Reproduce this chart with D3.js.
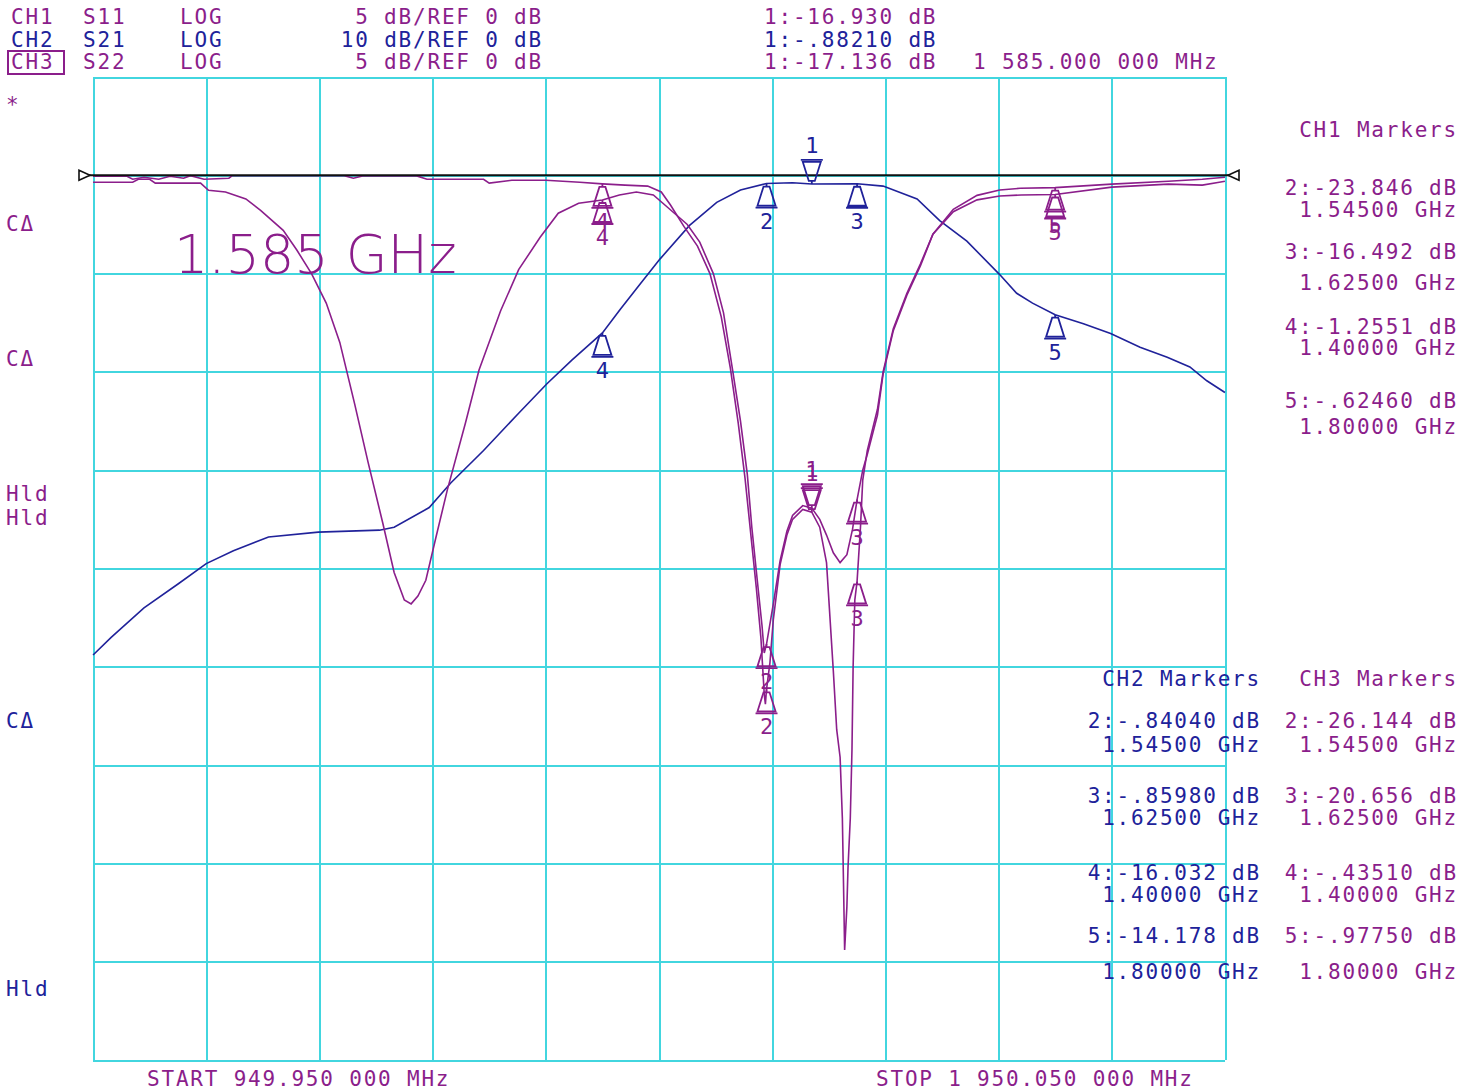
<!DOCTYPE html>
<html>
<head>
<meta charset="utf-8">
<script src="https://cdn.jsdelivr.net/npm/d3@7/dist/d3.min.js"></script>
<style>
body { margin: 0; background: #ffffff; }
text { font-family: 'DejaVu Sans Mono', monospace; }
</style>
</head>
<body>
<div id="chart"></div>
<script>
// sweep
var startMHz = 949.95;
var stopMHz = 1950.05;

// CH1 S11 (5 dB/div)
var ch1Freq = [950, 985, 990, 1000, 1005, 1045, 1052, 1067, 1085, 1098, 1118, 1130, 1143, 1156, 1168, 1181, 1193, 1206, 1216, 1225, 1231, 1237, 1244, 1253, 1263, 1279, 1291, 1310, 1326, 1345, 1361, 1379, 1400, 1415, 1430, 1445, 1457, 1475, 1486, 1498, 1507, 1515, 1522, 1528, 1532, 1537, 1541, 1543, 1545, 1551, 1557, 1563, 1568, 1577, 1585, 1592, 1598, 1604, 1610, 1616, 1621, 1625, 1630, 1634, 1643, 1648, 1657, 1669, 1681, 1692, 1710, 1731, 1751, 1769, 1800, 1850, 1900, 1930, 1950];
var ch1Db = [-0.35, -0.35, -0.2, -0.2, -0.4, -0.4, -0.76, -0.85, -1.2, -1.78, -2.8, -3.8, -5.0, -6.5, -8.5, -11.6, -14.6, -17.7, -20.2, -21.6, -21.8, -21.4, -20.6, -18.4, -16.0, -12.6, -9.9, -6.9, -4.8, -3.15, -1.93, -1.42, -1.2551, -1.0, -0.85, -1.0, -1.6, -2.5, -3.4, -5.0, -7.0, -9.9, -12.5, -15.2, -17.9, -20.7, -22.9, -24.3, -23.846, -21.8, -19.6, -18.1, -17.3, -16.8, -16.93, -17.5, -18.3, -19.2, -19.7, -19.3, -18.0, -16.492, -15.0, -14.2, -12.2, -10.1, -7.9, -6.1, -4.6, -3.0, -1.73, -1.02, -0.75, -0.66, -0.6246, -0.45, -0.3, -0.2, -0.1];

// CH2 S21 (10 dB/div)
var ch2Freq = [950, 966, 995, 1026, 1050, 1074, 1105, 1149, 1203, 1216, 1247, 1266, 1295, 1326, 1351, 1373, 1400, 1416, 1433, 1451, 1477, 1501, 1522, 1545, 1568, 1585, 1625, 1648, 1678, 1698, 1722, 1751, 1766, 1780, 1800, 1825, 1849, 1875, 1899, 1919, 1934, 1950];
var ch2Db = [-48.8, -47.0, -44.0, -41.5, -39.5, -38.2, -36.8, -36.3, -36.1, -35.8, -33.8, -31.3, -28.0, -24.2, -21.2, -18.8, -16.032, -13.6, -11.1, -8.5, -5.1, -2.75, -1.5, -0.8404, -0.76, -0.8821, -0.8598, -1.1, -2.4, -4.6, -6.7, -10.1, -12.0, -13.0, -14.178, -15.1, -16.1, -17.5, -18.5, -19.5, -20.9, -22.1];

// CH3 S22 (5 dB/div)
var ch3Freq = [950, 980, 985, 995, 1008, 1018, 1030, 1036, 1048, 1070, 1073, 1172, 1180, 1189, 1236, 1245, 1295, 1300, 1320, 1350, 1380, 1400, 1420, 1440, 1452, 1460, 1472, 1484, 1495, 1505, 1513, 1520, 1526, 1531, 1536, 1540, 1543, 1544, 1545, 1548, 1551, 1557, 1563, 1568, 1577, 1585, 1592, 1598, 1604, 1607, 1610, 1612, 1613, 1614, 1616, 1617, 1619, 1620.5, 1621.5, 1623, 1625, 1628, 1630, 1634, 1643, 1648, 1657, 1669, 1681, 1692, 1710, 1731, 1751, 1770, 1800, 1850, 1900, 1930, 1945, 1950];
var ch3Db = [-0.05, -0.05, -0.2, -0.1, -0.2, -0.05, -0.15, -0.02, -0.2, -0.15, -0.02, -0.02, -0.15, -0.02, -0.03, -0.2, -0.2, -0.4, -0.25, -0.25, -0.35, -0.4351, -0.5, -0.55, -0.85, -1.5, -2.6, -3.6, -5.0, -7.2, -9.8, -12.6, -15.4, -18.2, -21.0, -23.5, -26.4, -26.9, -26.144, -24.8, -22.6, -19.8, -18.3, -17.5, -17.0, -17.136, -17.9, -19.7, -25.2, -28.2, -29.6, -32.7, -36.0, -39.4, -37.2, -35.2, -32.7, -29.2, -25.0, -21.6, -20.656, -17.9, -15.5, -14.0, -11.9, -10.0, -7.8, -6.0, -4.5, -3.0, -1.85, -1.25, -1.05, -1.0, -0.9775, -0.6, -0.45, -0.5, -0.35, -0.3];

// markers
var markerFreq = [1585, 1545, 1625, 1400, 1800];
var markerNames = ['1', '2', '3', '4', '5'];
var ch1MarkerDb = [-16.930, -23.846, -16.492, -1.2551, -0.6246];
var ch2MarkerDb = [-0.8821, -0.8404, -0.8598, -16.032, -14.178];
var ch3MarkerDb = [-17.136, -26.144, -20.656, -0.4351, -0.9775];

// text
var headerChannels = ['CH1', 'CH2', 'CH3'];
var headerParams = ['S11', 'S21', 'S22'];
var headerFormats = ['LOG', 'LOG', 'LOG'];
var headerScales = ['5 dB/REF 0 dB', '10 dB/REF 0 dB', '5 dB/REF 0 dB'];
var headerMarker1 = ['1:-16.930 dB', '1:-.88210 dB', '1:-17.136 dB'];
var marker1Stimulus = '1 585.000 000 MHz';
var ch1MarkerValues = ['2:-23.846 dB', '3:-16.492 dB', '4:-1.2551 dB', '5:-.62460 dB'];
var ch2MarkerValues = ['2:-.84040 dB', '3:-.85980 dB', '4:-16.032 dB', '5:-14.178 dB'];
var ch3MarkerValues = ['2:-26.144 dB', '3:-20.656 dB', '4:-.43510 dB', '5:-.97750 dB'];
var markerStimuli = ['1.54500 GHz', '1.62500 GHz', '1.40000 GHz', '1.80000 GHz'];
var sideLabels = ['*', 'C\u0394', 'C\u0394', 'Hld', 'Hld', 'C\u0394', 'Hld'];
var startLabel = 'START  949.950 000 MHz';
var stopLabel = 'STOP 1 950.050 000 MHz';
var bigLabel = '1.585 GHz';

var magenta = '#8b1e8b';
var blue = '#20229a';
var gridColor = '#42d6df';

var width = 1472, height = 1090;
var plotLeft = 93, plotRight = 1225, plotTop = 77, plotBottom = 1060;

var svg = d3.select('#chart').append('svg')
    .attr('width', width)
    .attr('height', height)
    .style('display', 'block')
    .style('background', '#ffffff');

var x = d3.scaleLinear().domain([startMHz, stopMHz]).range([plotLeft, plotRight]);
// ref 0 dB sits one division below the top
var y5 = d3.scaleLinear().domain([5, -45]).range([plotTop, plotBottom]);
var y10 = d3.scaleLinear().domain([10, -90]).range([plotTop, plotBottom]);

drawGrid();
drawTraces();
drawRefLine();
drawMarkers(ch2MarkerDb, y10, blue);
drawMarkers(ch1MarkerDb, y5, magenta);
drawMarkers(ch3MarkerDb, y5, magenta);
drawText();

function drawGrid() {
    var xTicks = d3.range(11).map(function (i) { return startMHz + i * (stopMHz - startMHz) / 10; });
    var yTicks = d3.range(11).map(function (i) { return 5 - i * 5; });
    var gx = svg.append('g')
        .attr('transform', 'translate(0,' + plotBottom + ')')
        .call(d3.axisBottom(x).tickValues(xTicks).tickSize(-(plotBottom - plotTop)).tickFormat(''));
    var gy = svg.append('g')
        .attr('transform', 'translate(' + plotLeft + ',0)')
        .call(d3.axisLeft(y5).tickValues(yTicks).tickSize(-(plotRight - plotLeft)).tickFormat(''));
    [gx, gy].forEach(function (g) {
        g.select('.domain').remove();
        g.selectAll('line')
            .attr('stroke', gridColor)
            .attr('stroke-width', 2)
            .attr('shape-rendering', 'crispEdges');
    });
}

function drawTraces() {
    var traces = [
        {f: ch2Freq, v: ch2Db, y: y10, c: blue},
        {f: ch1Freq, v: ch1Db, y: y5, c: magenta},
        {f: ch3Freq, v: ch3Db, y: y5, c: magenta}
    ];
    traces.forEach(function (t) {
        var pts = t.f.map(function (f, i) { return [f, t.v[i]]; });
        var line = d3.line()
            .x(function (d) { return x(d[0]); })
            .y(function (d) { return t.y(d[1]); });
        svg.append('path')
            .datum(pts)
            .attr('d', line)
            .attr('fill', 'none')
            .attr('stroke', t.c)
            .attr('stroke-width', 1.6);
    });
}

function drawRefLine() {
    var yr = y5(0);
    svg.append('line')
        .attr('x1', plotLeft - 12).attr('x2', plotRight + 12)
        .attr('y1', yr).attr('y2', yr)
        .attr('stroke', '#111')
        .attr('stroke-width', 2);
    svg.append('path')
        .attr('d', 'M' + (plotLeft - 14) + ',' + (yr - 5) + 'L' + (plotLeft - 3) + ',' + yr + 'L' + (plotLeft - 14) + ',' + (yr + 5) + 'Z')
        .attr('fill', '#fff').attr('stroke', '#111').attr('stroke-width', 1.6);
    svg.append('path')
        .attr('d', 'M' + (plotRight + 14) + ',' + (yr - 5) + 'L' + (plotRight + 3) + ',' + yr + 'L' + (plotRight + 14) + ',' + (yr + 5) + 'Z')
        .attr('fill', '#fff').attr('stroke', '#111').attr('stroke-width', 1.6);
}

function drawMarkers(dbs, yScale, color) {
    var g = svg.append('g');
    markerFreq.forEach(function (f, i) {
        var px = x(f), py = yScale(dbs[i]);
        var s = i === 0 ? -1 : 1; // marker 1 hangs above the trace
        var p = d3.path();
        p.moveTo(px, py); p.lineTo(px, py + 3 * s);
        p.moveTo(px - 3, py + 3 * s);
        p.lineTo(px + 3, py + 3 * s);
        p.lineTo(px + 9, py + 22 * s);
        p.lineTo(px - 9, py + 22 * s);
        p.closePath();
        p.moveTo(px - 11, py + 24 * s);
        p.lineTo(px + 11, py + 24 * s);
        g.append('path')
            .attr('d', p.toString())
            .attr('fill', 'none')
            .attr('stroke', color)
            .attr('stroke-width', 1.8);
        g.append('text')
            .attr('x', px)
            .attr('y', i === 0 ? py - 31 : py + 45)
            .attr('text-anchor', 'middle')
            .style('font-size', '22px')
            .attr('fill', color)
            .text(markerNames[i]);
    });
}

function label(txt, xx, yy, color, anchor) {
    return svg.append('text')
        .attr('x', xx)
        .attr('y', yy)
        .attr('text-anchor', anchor || 'start')
        .attr('fill', color)
        .style('font-size', '21px')
        .style('letter-spacing', '1.8px')
        .text(txt);
}

function drawText() {
    var rowColors = [magenta, blue, magenta];
    var rowY = [24, 47, 69];
    headerChannels.forEach(function (c, i) {
        label(c, 11, rowY[i], rowColors[i]);
        label(headerParams[i], 83, rowY[i], rowColors[i]);
        label(headerFormats[i], 180, rowY[i], rowColors[i]);
        label(headerScales[i], 543, rowY[i], rowColors[i], 'end');
        label(headerMarker1[i], 764, rowY[i], rowColors[i]);
    });
    label(marker1Stimulus, 973, rowY[2], magenta);
    svg.append('rect')
        .attr('x', 8).attr('y', 51).attr('width', 56).attr('height', 23)
        .attr('fill', 'none').attr('stroke', magenta).attr('stroke-width', 2);

    // marker tables
    label('CH1 Markers', 1458, 137, magenta, 'end');
    var ch1Rows = [[195, 217], [259, 290], [334, 355], [408, 434]];
    ch1MarkerValues.forEach(function (v, i) {
        label(v, 1458, ch1Rows[i][0], magenta, 'end');
        label(markerStimuli[i], 1458, ch1Rows[i][1], magenta, 'end');
    });
    label('CH2 Markers', 1261, 686, blue, 'end');
    label('CH3 Markers', 1458, 686, magenta, 'end');
    var lowRows = [[728, 752], [803, 825], [880, 902], [943, 979]];
    ch2MarkerValues.forEach(function (v, i) {
        label(v, 1261, lowRows[i][0], blue, 'end');
        label(markerStimuli[i], 1261, lowRows[i][1], blue, 'end');
        label(ch3MarkerValues[i], 1458, lowRows[i][0], magenta, 'end');
        label(markerStimuli[i], 1458, lowRows[i][1], magenta, 'end');
    });

    // left status column
    var sideY = [112, 231, 366, 501, 525, 728, 996];
    var sideC = [magenta, magenta, magenta, magenta, magenta, blue, blue];
    sideLabels.forEach(function (s, i) {
        label(s, 6, sideY[i], sideC[i]);
    });

    label(startLabel, 147, 1086, magenta);
    label(stopLabel, 876, 1086, magenta);

    svg.append('text')
        .attr('x', 174)
        .attr('y', 273)
        .attr('fill', magenta)
        .style('font-family', "'DejaVu Sans', sans-serif")
        .style('font-weight', '200')
        .style('font-size', '54px')
        .text(bigLabel);
}
</script>
</body>
</html>
